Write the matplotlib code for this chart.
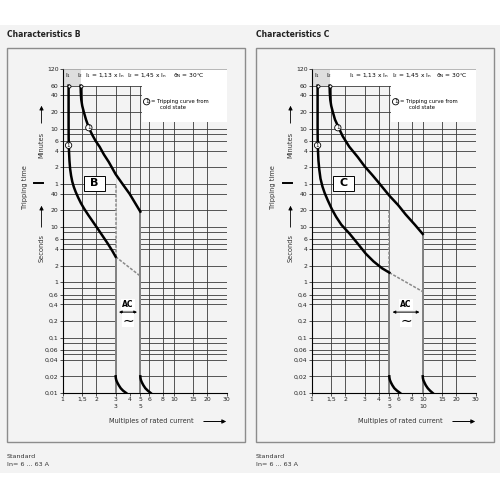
import numpy as np
import matplotlib.pyplot as plt
from matplotlib.patches import Rectangle, FancyArrowPatch

W, H = 500, 500
BG = '#f3f3f3'
GRID = '#3a3a3a'

# ---- values (x = multiples of In, t = seconds) ----
xticks = [1, 1.5, 2, 3, 4, 5, 6, 8, 10, 15, 20, 30]
xticklabels = ['1', '1,5', '2', '3', '4', '5', '6', '8', '10', '15', '20', '30']
vgrid = [1.5, 2, 3, 4, 5, 6, 8, 10, 15, 20, 30]

ytick_sec = [7200, 3600, 2400, 1200, 600, 360, 240, 120, 60,
             40, 20, 10, 6, 4, 2, 1, 0.6, 0.4, 0.2, 0.1, 0.06, 0.04, 0.02, 0.01]
yticklabels = ['120', '60', '40', '20', '10', '6', '4', '2', '1',
               '40', '20', '10', '6', '4', '2', '1', '0,6', '0,4', '0,2', '0,1',
               '0,06', '0,04', '0,02', '0,01']
hgrid = [3600, 2400, 1200, 600, 480, 360, 240, 120, 60, 40, 20, 10, 8, 6, 5, 4, 2,
         1, 0.8, 0.6, 0.5, 0.4, 0.2, 0.1, 0.08, 0.06, 0.05, 0.04, 0.02]

# characteristic B
b_low_x = [1.13, 1.13, 1.132, 1.138, 1.15, 1.165, 1.19, 1.22, 1.26, 1.31, 1.38, 1.46,
           1.56, 1.7, 1.87, 2.07, 2.3, 2.55, 2.8, 3.0]
b_low_t = [3600, 700, 400, 250, 160, 115, 85, 66, 53, 43, 34, 27,
           21.5, 16.5, 12.5, 9.3, 6.8, 5.0, 3.7, 2.9]
b_up_x = [1.45, 1.455, 1.47, 1.5, 1.55, 1.62, 1.72, 1.84, 1.98, 2.15, 2.35, 2.6,
          3.0, 3.5, 4.0, 4.5, 5.0]
b_up_t = [3600, 2700, 2000, 1550, 1200, 880, 625, 470, 360, 283, 205, 150,
          90, 58, 40, 27, 19]
b_band = (3, 5)
b_dash_top = 60
b_dash_end = 1.3
b_inst1_x = [3.0, 3.01, 3.04, 3.1, 3.2, 3.33, 3.5, 3.73]
b_inst2_x = [5.0, 5.02, 5.07, 5.17, 5.33, 5.55, 5.85, 6.2]
inst_t = [0.02, 0.0185, 0.017, 0.0155, 0.0138, 0.0122, 0.011, 0.01]

# characteristic C
c_low_x = [1.13, 1.13, 1.132, 1.138, 1.15, 1.17, 1.2, 1.25, 1.31, 1.4, 1.52, 1.66,
           1.85, 2.18, 2.6, 3.07, 3.6, 4.3, 5.0]
c_low_t = [3600, 700, 400, 250, 160, 110, 75, 54, 41, 30, 21, 15.3,
           11, 7.7, 5.0, 3.3, 2.4, 1.8, 1.5]
c_up_x = [1.45, 1.455, 1.47, 1.5, 1.55, 1.62, 1.75, 1.9, 2.18, 2.6, 3.0, 3.5, 4.0,
          5.0, 6.0, 7.0, 8.5, 10.0]
c_up_t = [3600, 2700, 2000, 1550, 1200, 880, 625, 440, 283, 184, 125, 88, 64,
          37, 25, 17, 11, 7.5]
c_band = (5, 10)
c_dash_top = 20
c_dash_end = 0.68
c_inst1_x = [5.0, 5.02, 5.07, 5.17, 5.33, 5.55, 5.87, 6.25]
c_inst2_x = [10.0, 10.04, 10.14, 10.35, 10.65, 11.1, 11.65, 12.3]


def fx(x):
    return x / W


def fy(y):
    return 1 - y / H


def circled(ax, x, y, size=4):
    ax.text(x, y, '1', fontsize=size, ha='center', va='center', zorder=6,
            bbox=dict(boxstyle='circle,pad=0.12', fc='white', ec='black', lw=0.6))


def draw_panel(ax, low_x, low_t, up_x, up_t, band, dash_top, dash_end,
               inst1_x, inst2_x, head_x):
    ax.set_xscale('log')
    ax.set_yscale('log')
    ax.set_xlim(1, 30)
    ax.set_ylim(0.01, 7200)
    ax.set_facecolor('none')

    # grid
    ax.hlines(hgrid, 1, 30, colors=GRID, lw=0.6, zorder=1)
    ax.vlines(vgrid, 0.01, 7200, colors=GRID, lw=0.6, zorder=1)

    # header / legend / shaded column
    ax.add_patch(Rectangle((1, 3600), 0.47, 3600, fc='#dedede', ec='none', zorder=2))
    ax.add_patch(Rectangle((1.47, 3600), 28.53, 3600, fc='white', ec='none', zorder=2))
    ax.add_patch(Rectangle((5.15, 800), 24.85, 2800, fc='white', ec='none', zorder=2))

    # clear band of the magnetic release
    ux = np.array(up_x)
    ut = np.array(up_t)
    m = (ux >= band[0]) & (ux <= band[1])
    ax.fill_between(ux[m], 0.01, ut[m], color=BG, lw=0, zorder=1.5)

    # gray limits of the band
    ax.vlines(band[0], 0.01, low_t[-1], colors='#808080', lw=1.4, zorder=3)
    ax.vlines(band[1], 0.01, up_t[-1], colors='#808080', lw=1.4, zorder=3)
    ax.plot([band[0], band[0]], [low_t[-1], dash_top], color='#8a8a8a',
            lw=1.1, ls=(0, (2, 1)), zorder=3)
    ax.plot([band[0], band[1]], [low_t[-1], dash_end], color='#8a8a8a',
            lw=1.1, ls=(0, (2, 1)), zorder=3)

    # tripping curves
    for xs, ts in [(low_x, low_t), (up_x, up_t), (inst1_x, inst_t), (inst2_x, inst_t)]:
        ax.plot(xs, ts, color='black', lw=1.8, zorder=4, solid_joinstyle='round')
    ax.plot([low_x[0], up_x[0]], [3600, 3600], 'o', ms=2.2, mfc='white',
            mec='black', mew=0.6, zorder=5)

    # labels inside the plot
    ax.text(1.11, 5450, r'$\mathrm{I_1}$', fontsize=4.2, ha='center', va='center', zorder=5)
    ax.text(1.43, 5450, r'$\mathrm{I_2}$', fontsize=4.2, ha='center', va='center', zorder=5)
    ax.text(head_x[0], 5450, r'$\mathrm{I_1}$ = 1,13 x $\mathrm{I_n}$', fontsize=4.2,
            va='center', zorder=5)
    ax.text(head_x[1], 5450, r'$\mathrm{I_2}$ = 1,45 x $\mathrm{I_n}$', fontsize=4.2,
            va='center', zorder=5)
    ax.text(head_x[2], 5450, r'$\mathrm{\vartheta_N}$ = 30°C', fontsize=4.2,
            va='center', zorder=5)
    circled(ax, 5.7, 1845)
    ax.text(6.3, 1845, '= Tripping curve from', fontsize=3.8, va='center', zorder=5)
    ax.text(7.5, 1420, 'cold state', fontsize=3.8, va='center', zorder=5)
    circled(ax, 1.13, 300)
    circled(ax, 1.72, 625)

    xm = np.sqrt(band[0] * band[1])
    ax.text(xm, 0.4, 'AC', fontsize=5.5, fontweight='bold', ha='center', va='center',
            zorder=6, bbox=dict(boxstyle='square,pad=0.15', fc='white', ec='none'))
    ax.annotate('', xy=(band[0] * 1.01, 0.29), xytext=(band[1] / 1.01, 0.29),
                arrowprops=dict(arrowstyle='<|-|>', lw=0.7, color='black',
                                mutation_scale=4), zorder=6)
    ax.text(xm, 0.205, '∼', fontsize=10, ha='center', va='center', zorder=6,
            bbox=dict(boxstyle='square,pad=0.0', fc='white', ec='none'))

    # axes
    ax.set_yticks(ytick_sec)
    ax.set_yticklabels(yticklabels)
    ax.yaxis.set_minor_locator(plt.NullLocator())
    ax.set_xticks(xticks)
    ax.set_xticklabels(xticklabels)
    ax.xaxis.set_minor_locator(plt.NullLocator())
    ax.tick_params(axis='both', labelsize=4.4, length=2, width=0.6, pad=1,
                   color='#333333', labelcolor='#222222')
    for s in ['top', 'right']:
        ax.spines[s].set_visible(False)
    for s in ['left', 'bottom']:
        ax.spines[s].set_linewidth(0.8)
    ax.vlines(30, 0.01, 7200, colors=GRID, lw=0.6, zorder=3)
    ax.hlines(7200, 1, 30, colors='#9a9a9a', lw=0.5, zorder=3)

    tr = ax.get_xaxis_transform()
    for v in band:
        ax.text(v, -0.043, str(v), fontsize=4.4, ha='center', va='center',
                transform=tr, color='#222222')


fig = plt.figure(figsize=(5, 5), dpi=100)
fig.patch.set_facecolor('white')
fig.patches.append(Rectangle((0, fy(473)), 1, (473 - 25) / H, transform=fig.transFigure,
                             fc=BG, ec='none', zorder=-10))

panels = [
    (0, 'Characteristics B', 'B', b_low_x, b_low_t, b_up_x, b_up_t, b_band, b_dash_top,
     b_dash_end, b_inst1_x, b_inst2_x, (1.58, 3.8, 9.9)),
    (249, 'Characteristics C', 'C', c_low_x, c_low_t, c_up_x, c_up_t, c_band, c_dash_top,
     c_dash_end, c_inst1_x, c_inst2_x, (2.18, 5.25, 13.1)),
]

for off, title, letter, lx, lt, ux, ut, band, dtop, dend, i1, i2, hx in panels:
    fig.patches.append(Rectangle((fx(7 + off), fy(442)), 238 / W, 394 / H,
                                 transform=fig.transFigure, fill=False,
                                 ec='#8c8c8c', lw=1.0, zorder=-5))
    fig.text(fx(7 + off), fy(34), title, fontsize=5.5, fontweight='bold',
             va='center', color='#222222')
    fig.text(fx(7 + off), fy(456), 'Standard', fontsize=4.6, va='center', color='#333333')
    fig.text(fx(7 + off), fy(465), 'In= 6 ... 63 A', fontsize=4.6, va='center',
             color='#333333')

    ax = fig.add_axes([fx(62.7 + off), fy(393), 164 / W, 324 / H])
    draw_panel(ax, lx, lt, ux, ut, band, dtop, dend, i1, i2, hx)

    # letter box (B / C)
    fig.add_artist(Rectangle((fx(84 + off), fy(191)), 21 / W, 15 / H,
                             transform=fig.transFigure, fc='white', ec='black',
                             lw=0.7, zorder=6))
    fig.text(fx(94.5 + off), fy(183.5), letter, fontsize=8, fontweight='bold',
             ha='center', va='center', zorder=7)

    # y-axis annotations
    fig.text(fx(24.5 + off), fy(187), 'Tripping time', fontsize=4.8, rotation=90,
             ha='center', va='center', color='#333333')
    fig.text(fx(41.5 + off), fy(145), 'Minutes', fontsize=4.8, rotation=90,
             ha='center', va='center', color='#333333')
    fig.text(fx(41.5 + off), fy(248), 'Seconds', fontsize=4.8, rotation=90,
             ha='center', va='center', color='#333333')
    for y0, y1 in [(126, 103), (230, 203)]:
        fig.add_artist(FancyArrowPatch(
            (fx(41.5 + off), fy(y0)), (fx(41.5 + off), fy(y1)),
            transform=fig.transFigure, arrowstyle='-|>', mutation_scale=6,
            lw=0.6, color='black'))
    fig.add_artist(plt.Line2D([fx(34 + off), fx(43 + off)], [fy(182.7), fy(182.7)],
                              transform=fig.transFigure, lw=1.4, color='black'))

    # x-axis label with arrow
    fig.text(fx(151.5 + off), fy(421.5), 'Multiples of rated current', fontsize=4.8,
             ha='center', va='center', color='#333333')
    fig.add_artist(FancyArrowPatch(
        (fx(201 + off), fy(421.5)), (fx(229 + off), fy(421.5)),
        transform=fig.transFigure, arrowstyle='-|>', mutation_scale=6,
        lw=0.7, color='black'))

fig.savefig('out.png', dpi=100, facecolor=fig.get_facecolor())
